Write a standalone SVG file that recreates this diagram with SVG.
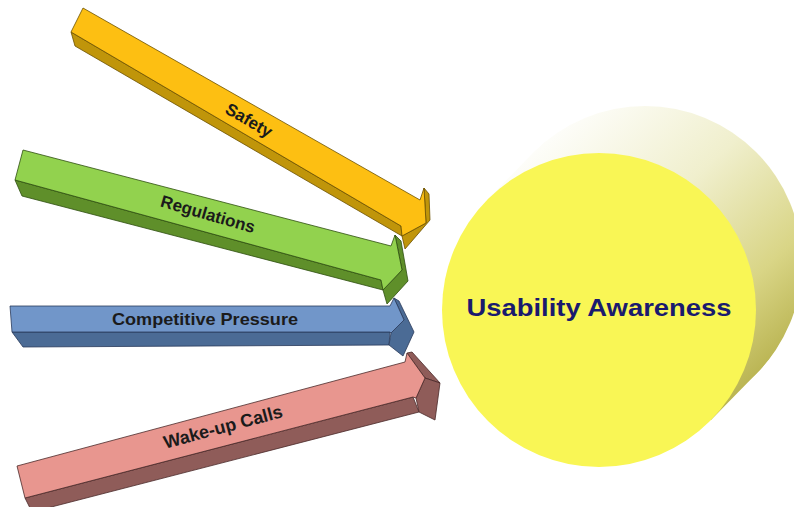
<svg xmlns="http://www.w3.org/2000/svg" width="794" height="507" viewBox="0 0 794 507">
<defs>
<style>
.lbl{font-family:"Liberation Sans",Arial,sans-serif;font-weight:bold;fill:#1b1b1b;text-anchor:middle}
.yl{fill:#fdbf12;stroke:#6b5000;stroke-width:0.8;stroke-linejoin:round}
.yd{fill:#c0950a;stroke:#6b5000;stroke-width:0.8;stroke-linejoin:round}
.gl{fill:#92d24e;stroke:#2f4f10;stroke-width:0.8;stroke-linejoin:round}
.gd{fill:#5f8f2a;stroke:#2f4f10;stroke-width:0.8;stroke-linejoin:round}
.bl{fill:#7196c9;stroke:#2a3a5a;stroke-width:0.8;stroke-linejoin:round}
.bd{fill:#4b6b95;stroke:#2a3a5a;stroke-width:0.8;stroke-linejoin:round}
.pl{fill:#e8968f;stroke:#4a2a2a;stroke-width:0.8;stroke-linejoin:round}
.pd{fill:#8f5c59;stroke:#4a2a2a;stroke-width:0.8;stroke-linejoin:round}
</style>
<linearGradient id="shade" gradientUnits="userSpaceOnUse" x1="550" y1="115" x2="790" y2="380">
<stop offset="0" stop-color="#ffffff"/>
<stop offset="0.4" stop-color="#f0efcd"/>
<stop offset="0.72" stop-color="#d9d586"/>
<stop offset="1" stop-color="#b0aa42"/>
</linearGradient>
</defs>
<rect width="794" height="507" fill="#ffffff"/>

<g id="usability-awareness">
<path d="M487,200 L533,153 A157,157 0 0 1 757,373 L711,420 Z" fill="url(#shade)"/>
<circle cx="645" cy="263" r="157" fill="url(#shade)"/>
<circle cx="599" cy="310" r="157" fill="#f9f655"/>
<text x="599" y="316" font-family="Liberation Sans, Arial, sans-serif" font-weight="bold" font-size="24" fill="#1a1a6e" text-anchor="middle" textLength="265" lengthAdjust="spacingAndGlyphs">Usability Awareness</text>
</g>

<g id="connectors">
<g id="arrow-wakeup">
<polygon class="pd" points="25,498 413,397 419,412 32,512"/>
<polygon class="pd" points="407,353 412,352 440,383 425,378"/>
<polygon class="pd" points="425,378 440,383 435,420 419,412 416,398"/>
<polygon class="pl" points="17,466 405,362 407,353 425,378 416,398 413,397 25,498"/>
<text class="lbl" font-size="18" transform="translate(223,427) rotate(-15)" y="6">Wake-up Calls</text>
</g>
<g id="arrow-competitive">
<polygon class="bd" points="12,332 390,332 389,345 23,347"/>
<polygon class="bd" points="394,298 399,301 414,332 403,356 389,345 391,333 404,320"/>
<polygon class="bl" points="10,306 390,306 394,298 404,320 391,333 390,332 12,332"/>
<text class="lbl" font-size="17" x="205" y="325" textLength="186" lengthAdjust="spacingAndGlyphs" fill="#1c2038">Competitive Pressure</text>
</g>
<g id="arrow-regulations">
<polygon class="gd" points="15,180 381,280 383,290 22,196"/>
<polygon class="gd" points="395,235 401,241 408,281 387,304 383,290 402,270"/>
<polygon class="gl" points="23,150 391,246 395,235 402,270 383,290 381,280 15,180"/>
<text class="lbl" font-size="17" transform="translate(208,214) rotate(16)" y="6">Regulations</text>
</g>
<g id="arrow-safety">
<polygon class="yd" points="71,32 401,226 402,236 75,46"/>
<polygon class="yd" points="424,188 429,194 430,220 405,249 402,236 426,223"/>
<polygon class="yl" points="83,8 420,200 424,188 426,223 402,236 401,226 71,32"/>
<text class="lbl" font-size="17" transform="translate(249,120) rotate(30)" y="6">Safety</text>
</g>
</g>
</svg>
